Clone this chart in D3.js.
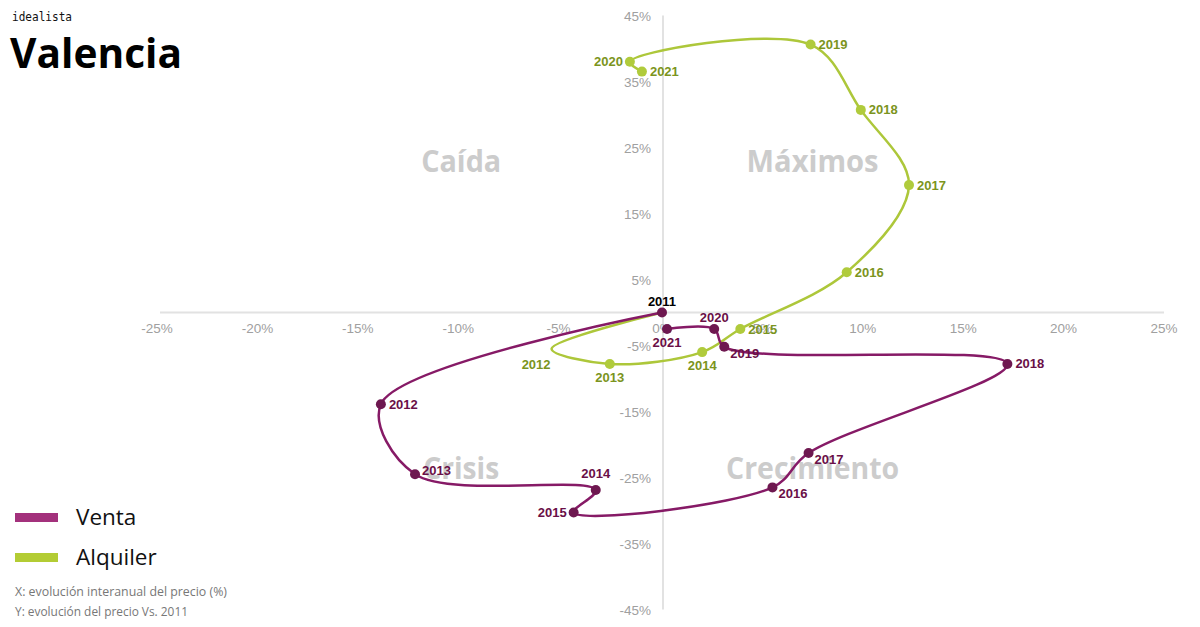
<!DOCTYPE html>
<html><head><meta charset="utf-8">
<script src="https://cdn.jsdelivr.net/npm/d3@7"></script>
<style>body{margin:0;background:#fff}svg{display:block}</style>
</head><body>
<svg id="c" width="1200" height="627"></svg>
<script>
// ---- data ----
const years = ["2011","2012","2013","2014","2015","2016","2017","2018","2019","2020","2021"];
const ventaX = [0, -14.0, -12.3, -3.3, -4.4, 5.5, 7.3, 17.2, 3.1, 2.6, 0.25];
const ventaY = [0, -13.9, -24.5, -26.9, -30.3, -26.5, -21.3, -7.8, -5.2, -2.5, -2.5];
const alquilerX = [0, -5.5, -2.6, 2.0, 3.9, 9.2, 12.3, 9.9, 7.4, -1.6, -1.0];
const alquilerY = [0, -5.5, -7.8, -6.0, -2.5, 6.1, 19.3, 30.7, 40.6, 38.0, 36.5];
const xTicks = [-25, -20, -15, -10, -5, 0, 5, 10, 15, 20, 25];
const yTicks = [45, 35, 25, 15, 5, -5, -15, -25, -35, -45];
const quadrants = ["Caída", "Máximos", "Crisis", "Crecimiento"];
const seriesNames = ["Venta", "Alquiler"];
const notes = ["X: evolución interanual del precio (%)", "Y: evolución del precio Vs. 2011"];

// ---- layout / style ----
const ventaLabelPos = ["top","right","rightup","top2","left","rightdown","rightdown","right","rightdown","top","bottom"];
const alqLabelPos = [null,"leftdown","bottom","bottom","right","right","right","right","right","left","right"];
const alqHiddenMarker = [true, true, false, false, false, false, false, false, false, false, false];

const svg = d3.select("#c");
const x = d3.scaleLinear().domain([-25, 25]).range([160, 1164]);
const y = d3.scaleLinear().domain([-45, 45]).range([609.5, 15.5]);

const C = {
  vLine: "#861a66", vPt: "#6e1850", vLab: "#6a0f47", vLeg: "#a3317c",
  aLine: "#adc73a", aPt: "#b0cb3c", aLab: "#7b9420", aLeg: "#b3cc34"
};

// axes lines
svg.append("line").attr("x1", x(-25)).attr("x2", x(25)).attr("y1", y(0)).attr("y2", y(0))
  .attr("stroke", "#e2e2e2").attr("stroke-width", 2);
svg.append("line").attr("x1", x(0) + 1).attr("x2", x(0) + 1).attr("y1", y(45)).attr("y2", y(-45))
  .attr("stroke", "#e2e2e2").attr("stroke-width", 2);

// tick labels
svg.append("g").selectAll("text").data(xTicks).join("text")
  .attr("x", d => x(d) - (d < 0 ? 3 : 0)).attr("y", y(0) + 20)
  .attr("text-anchor", "middle").attr("font-family", "Liberation Sans, Arial, sans-serif")
  .attr("font-size", 13.5).attr("fill", "#a0a0a0").text(d => d + "%");
svg.append("g").selectAll("text").data(yTicks).join("text")
  .attr("x", 651).attr("y", d => y(d) + 5)
  .attr("text-anchor", "end").attr("font-family", "Liberation Sans, Arial, sans-serif")
  .attr("font-size", 13.5).attr("fill", "#a0a0a0").text(d => d + "%");

// quadrant labels
const qPos = [[-10, 23], [7.5, 23], [-10, -23.5], [7.5, -23.5]];
svg.append("g").selectAll("text").data(quadrants).join("text")
  .attr("x", (d, i) => x(qPos[i][0])).attr("y", (d, i) => y(qPos[i][1]) + 11)
  .attr("text-anchor", "middle").attr("font-family", "Open Sans, sans-serif")
  .attr("font-weight", 700).attr("font-size", 30).attr("fill", "#cccccc")
  .attr("textLength", (d, i) => [80, 132, 76, 173][i]).attr("lengthAdjust", "spacingAndGlyphs")
  .text(d => d);

const line = d3.line().x(d => x(d[0])).y(d => y(d[1])).curve(d3.curveCatmullRom.alpha(0.5));
const ventaPts = years.map((yr, i) => [ventaX[i], ventaY[i], yr]);
const alqPts = years.map((yr, i) => [alquilerX[i], alquilerY[i], yr]);

// alquiler
svg.append("path").datum(alqPts).attr("d", line).attr("fill", "none")
  .attr("stroke", C.aLine).attr("stroke-width", 2.5);
svg.append("g").selectAll("circle").data(alqPts.filter((d, i) => !alqHiddenMarker[i])).join("circle")
  .attr("cx", d => x(d[0])).attr("cy", d => y(d[1])).attr("r", 5).attr("fill", C.aPt);

// venta
svg.append("path").datum(ventaPts).attr("d", line).attr("fill", "none")
  .attr("stroke", C.vLine).attr("stroke-width", 2.5);
svg.append("g").selectAll("circle").data(ventaPts).join("circle")
  .attr("cx", d => x(d[0])).attr("cy", d => y(d[1])).attr("r", 5).attr("fill", C.vPt);

function placeLabel(sel, posArr) {
  sel.each(function(d, i) {
    const p = posArr[i];
    const px = x(d[0]), py = y(d[1]);
    let tx = px, ty = py + 4.5, anchor = "middle";
    if (p === "top") { ty = py - 7; }
    else if (p === "top2") { ty = py - 12; }
    else if (p === "bottom") { ty = py + 18; }
    else if (p === "right") { tx = px + 8; anchor = "start"; }
    else if (p === "rightup") { tx = px + 7; ty = py + 1; anchor = "start"; }
    else if (p === "left") { tx = px - 7; anchor = "end"; }
    else if (p === "rightdown") { tx = px + 6; ty = py + 11; anchor = "start"; }
    else if (p === "leftdown") { tx = px - 1; ty = py + 20; anchor = "end"; }
    d3.select(this).attr("x", tx).attr("y", ty).attr("text-anchor", anchor);
  });
}
const labFont = "Liberation Sans, Arial, sans-serif";
svg.append("g").selectAll("text").data(alqPts.filter((d, i) => alqLabelPos[i])).join("text")
  .attr("font-family", labFont).attr("font-weight", 700).attr("font-size", 13)
  .attr("fill", C.aLab).text(d => d[2])
  .call(s => placeLabel(s, alqLabelPos.filter(p => p)));
svg.append("g").selectAll("text").data(ventaPts).join("text")
  .attr("font-family", labFont).attr("font-weight", 700).attr("font-size", 13)
  .attr("fill", (d, i) => i === 0 ? "#000" : C.vLab).text(d => d[2])
  .call(s => placeLabel(s, ventaLabelPos));

// title
svg.append("text").attr("x", 12).attr("y", 21).attr("font-family", "DejaVu Sans Mono, monospace")
  .attr("font-size", 12.5).attr("fill", "#111").attr("textLength", 60).attr("lengthAdjust", "spacingAndGlyphs")
  .text("idealista");
svg.append("text").attr("x", 10).attr("y", 68).attr("font-family", "Open Sans, sans-serif")
  .attr("font-weight", 700).attr("font-size", 42).attr("fill", "#000")
  .attr("textLength", 172).attr("lengthAdjust", "spacingAndGlyphs").text("Valencia");

// legend
const legCols = [C.vLeg, C.aLeg];
seriesNames.forEach((n, i) => {
  const yy = 517 + i * 40;
  svg.append("rect").attr("x", 15).attr("y", yy - 4).attr("width", 43).attr("height", 9).attr("fill", legCols[i]);
  svg.append("text").attr("x", 76).attr("y", yy + 8).attr("font-family", "Open Sans, sans-serif")
    .attr("font-size", 22.5).attr("fill", "#111").text(n);
});
const noteLen = [212, 173];
notes.forEach((n, i) => {
  svg.append("text").attr("x", 15).attr("y", 596 + i * 20).attr("font-family", "Open Sans, sans-serif")
    .attr("font-size", 13).attr("fill", "#777")
    .attr("textLength", noteLen[i]).attr("lengthAdjust", "spacingAndGlyphs").text(n);
});
</script>
</body></html>
